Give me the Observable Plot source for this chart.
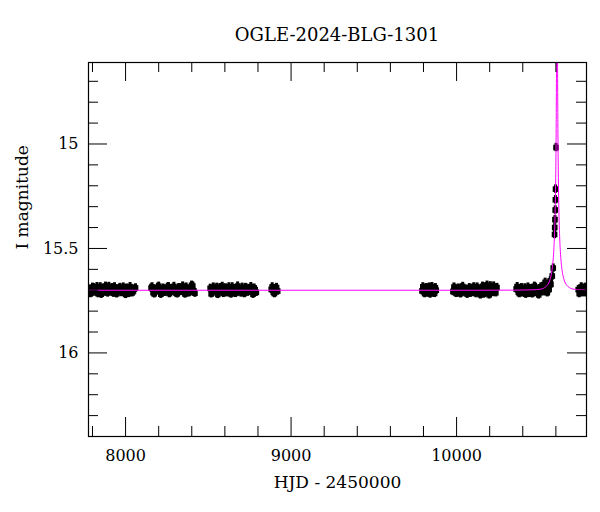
<!DOCTYPE html>
<html><head><meta charset="utf-8">
<script src="https://cdn.jsdelivr.net/npm/d3@7"></script>
<script src="https://cdn.jsdelivr.net/npm/@observablehq/plot@0.6"></script>
<style>
html,body{margin:0;padding:0;background:#fff;}
#title{box-sizing:border-box;height:50px;padding-top:26px;margin-left:88px;width:498px;text-align:center;font-family:"DejaVu Serif";font-size:18px;line-height:18px;color:#000;white-space:nowrap;}
</style></head><body>
<div id="title">OGLE-2024-BLG-1301</div>
<div id="chart"></div>
<script>
// ---- data (HJD - 2450000, I magnitude) ----
const obsT = [
  // season 1
  7781, 7794, 7806, 7820, 7833, 7847, 7860, 7872, 7886, 7899, 7912, 7926, 7940, 7953, 7966, 7980, 7993, 8006, 8020, 8034, 8047, 8060,
  // season 2
  8154, 8166, 8180, 8193, 8207, 8219, 8232, 8246, 8259, 8272, 8286, 8299, 8312, 8326, 8339, 8352, 8366, 8379, 8392, 8406, 8419,
  // season 3
  8511, 8524, 8537, 8551, 8564, 8577, 8591, 8604, 8617, 8631, 8644, 8657, 8671, 8684, 8697, 8711, 8724, 8737, 8751, 8764, 8777, 8790,
  // season 4
  8880, 8893, 8906, 8919,
  // season 5
  9791, 9802, 9813, 9824, 9835, 9846, 9857, 9867, 9877,
  // season 6
  9978, 9991, 10004, 10018, 10031, 10044, 10058, 10071, 10084, 10098, 10111, 10124, 10138, 10151, 10164, 10178, 10191, 10204, 10218, 10231, 10244,
  // season 7 (baseline + rise)
  10360, 10373, 10386, 10399, 10412, 10425, 10438, 10451, 10464, 10477, 10490, 10503, 10516, 10520, 10529, 10540, 10545, 10551, 10556, 10561, 10570,
  10578, 10584, 10592, 10593, 10594.5, 10596, 10597, 10598, 10601,
  // season 8
  10735, 10747, 10759, 10771, 10783, 10795
];
const obsMag = [
  15.695, 15.712, 15.688, 15.703, 15.716, 15.684, 15.698, 15.709, 15.691, 15.682, 15.705, 15.714, 15.693, 15.701, 15.687, 15.710, 15.699, 15.690, 15.715, 15.696, 15.706, 15.689,
  15.690, 15.711, 15.697, 15.686, 15.707, 15.713, 15.694, 15.700, 15.683, 15.709, 15.692, 15.704, 15.717, 15.688, 15.699, 15.706, 15.685, 15.712, 15.693, 15.680, 15.714,
  15.691, 15.712, 15.698, 15.686, 15.708, 15.695, 15.715, 15.689, 15.702, 15.711, 15.684, 15.697, 15.706, 15.692, 15.713, 15.700, 15.687, 15.709, 15.696, 15.704, 15.690, 15.710,
  15.696, 15.710, 15.692, 15.704,
  15.703, 15.690, 15.712, 15.697, 15.685, 15.708, 15.694, 15.715, 15.700,
  15.706, 15.691, 15.712, 15.700, 15.688, 15.709, 15.695, 15.703, 15.714, 15.690, 15.701, 15.685, 15.708, 15.696, 15.718, 15.683, 15.705, 15.679, 15.711, 15.693, 15.687,
  15.694, 15.709, 15.697, 15.712, 15.689, 15.703, 15.715, 15.693, 15.706, 15.686, 15.700, 15.711, 15.690, 15.682, 15.698, 15.676, 15.700, 15.690, 15.684, 15.665, 15.672,
  15.632, 15.594, 15.433, 15.400, 15.362, 15.316, 15.267, 15.216, 15.017,
  15.697, 15.705, 15.690, 15.703, 15.709, 15.694
];
// further measurements taken between the nights above
const obsT2 = [
  7787, 7800, 7813, 7827, 7840, 7853, 7866, 7879, 7892, 7905, 7919, 7933, 7946, 7960, 7973, 7986, 8000, 8013, 8027, 8040, 8053,
  8160, 8173, 8186, 8200, 8213, 8226, 8239, 8252, 8265, 8279, 8292, 8305, 8319, 8332, 8345, 8359, 8372, 8385, 8399, 8412,
  8517, 8530, 8544, 8557, 8570, 8584, 8597, 8610, 8624, 8637, 8650, 8664, 8677, 8690, 8704, 8717, 8730, 8744, 8757, 8770, 8783,
  8886, 8899, 8912,
  9796, 9807, 9818, 9829.5, 9840, 9851, 9862, 9872,
  9984, 9997, 10011, 10024, 10037, 10051, 10064, 10077, 10091, 10104, 10117, 10131, 10144, 10157, 10171, 10184, 10197, 10211, 10224, 10237,
  10366, 10379, 10392, 10405, 10418, 10431, 10444, 10457, 10470, 10483, 10496, 10509, 10524, 10535, 10548, 10559, 10566,
  10741, 10753, 10765, 10777, 10789
];
const obsMag2 = [
  15.716, 15.686, 15.708, 15.683, 15.700, 15.719, 15.690, 15.681, 15.713, 15.704, 15.688, 15.684, 15.717, 15.692, 15.711, 15.685, 15.720, 15.707, 15.683, 15.712, 15.694,
  15.684, 15.717, 15.703, 15.681, 15.719, 15.690, 15.710, 15.686, 15.716, 15.698, 15.682, 15.714, 15.689, 15.706, 15.680, 15.718, 15.695, 15.711, 15.676, 15.703,
  15.717, 15.685, 15.704, 15.720, 15.688, 15.682, 15.703, 15.712, 15.684, 15.718, 15.693, 15.715, 15.680, 15.701, 15.686, 15.716, 15.690, 15.706, 15.683, 15.719, 15.697,
  15.684, 15.716, 15.687,
  15.684, 15.716, 15.688, 15.712, 15.718, 15.683, 15.706, 15.688,
  15.685, 15.715, 15.690, 15.717, 15.682, 15.704, 15.719, 15.688, 15.711, 15.684, 15.716, 15.697, 15.722, 15.681, 15.713, 15.676, 15.722, 15.690, 15.680, 15.712,
  15.683, 15.716, 15.688, 15.700, 15.719, 15.685, 15.692, 15.717, 15.681, 15.710, 15.722, 15.684, 15.707, 15.662, 15.712, 15.696, 15.655,
  15.716, 15.684, 15.712, 15.686, 15.715
];
const obsErr = 0.02;

const modelT = [7700, 10107, 10357, 10457, 10507, 10527, 10547, 10557, 10567, 10577, 10582, 10587, 10592, 10595, 10597,
  10599, 10601, 10602, 10603, 10604, 10605, 10606, 10607, 10608, 10609, 10610, 10611, 10612, 10613, 10615,
  10617, 10619, 10622, 10627, 10632, 10637, 10647, 10657, 10667, 10687, 10707, 10757, 10800];
const modelMag = [15.700, 15.700, 15.6995, 15.698, 15.695, 15.690, 15.677, 15.665, 15.643, 15.602, 15.567, 15.514, 15.428, 15.346, 15.268,
  15.160, 15.000, 14.897, 14.754, 14.550, 14.260, 13.800, 13.350, 13.800, 14.260, 14.550, 14.754, 14.897, 15.000, 15.160,
  15.268, 15.346, 15.428, 15.514, 15.567, 15.602, 15.643, 15.665, 15.677, 15.690, 15.695, 15.698, 15.699];

const xMajor = [8000, 9000, 10000];
const xMinor = [7800, 8200, 8400, 8600, 8800, 9200, 9400, 9600, 9800, 10200, 10400, 10600];
const yMajor = [15, 15.5, 16];
const yMinor = [14.7, 14.8, 14.9, 15.1, 15.2, 15.3, 15.4, 15.6, 15.7, 15.8, 15.9, 16.1, 16.2, 16.3];

const titleText = "OGLE-2024-BLG-1301";
const xLabel = "HJD - 2450000";
const yLabel = "I magnitude";

// ---- tables ----
const obs = obsT.map((t, i) => ({t, mag: obsMag[i]}))
  .concat(obsT2.map((t, i) => ({t, mag: obsMag2[i]})));
const model = modelT.map((t, i) => ({t, mag: modelMag[i]}));

const W = 600, H = 462;
const mL = 88, mR = 14, mT = 12, mB = 76;
const pW = W - mL - mR, pH = H - mT - mB;
const bigT = 19, smallT = 10;

document.getElementById("title").textContent = titleText;

const chart = Plot.plot({
  width: W, height: H,
  marginLeft: mL, marginRight: mR, marginTop: mT, marginBottom: mB,
  style: {fontFamily: "DejaVu Serif", color: "black", background: "white"},
  x: {domain: [7776, 10785]},
  y: {domain: [14.61, 16.40], reverse: true},
  marks: [
    Plot.ruleX(obs, {x: "t", y1: d => d.mag - obsErr, y2: d => d.mag + obsErr, stroke: "black", strokeWidth: 3, clip: true}),
    Plot.dot(obs, {x: "t", y: "mag", symbol: "square", r: 3.2, fill: "black", stroke: "none", clip: true}),
    Plot.line(model, {x: "t", y: "mag", stroke: "#ff00ff", strokeWidth: 1, curve: "monotone-x", clip: true}),
    // ticks (inward, all four sides)
    Plot.ruleX(xMajor, {insetTop: pH - bigT, stroke: "black"}),
    Plot.ruleX(xMajor, {insetBottom: pH - bigT, stroke: "black"}),
    Plot.ruleX(xMinor, {insetTop: pH - smallT, stroke: "black"}),
    Plot.ruleX(xMinor, {insetBottom: pH - smallT, stroke: "black"}),
    Plot.ruleY(yMajor, {insetRight: pW - bigT, stroke: "black"}),
    Plot.ruleY(yMajor, {insetLeft: pW - bigT, stroke: "black"}),
    Plot.ruleY(yMinor, {insetRight: pW - smallT, stroke: "black"}),
    Plot.ruleY(yMinor, {insetLeft: pW - smallT, stroke: "black"}),
    Plot.axisX({ticks: xMajor, tickSize: 0, tickPadding: 13, tickFormat: d => String(d), fontSize: 16, label: null}),
    Plot.axisY({ticks: yMajor, tickSize: 0, tickPadding: 10, tickFormat: d => String(d), fontSize: 16, label: null}),
    Plot.text([xLabel], {text: d => d, frameAnchor: "bottom", dy: 51, fontSize: 17}),
    Plot.text([yLabel], {text: d => d, frameAnchor: "left", dx: -66, rotate: -90, fontSize: 17}),
    Plot.frame({stroke: "black", strokeWidth: 1.2})
  ]
});
document.getElementById("chart").appendChild(chart);
</script>
</body></html>
